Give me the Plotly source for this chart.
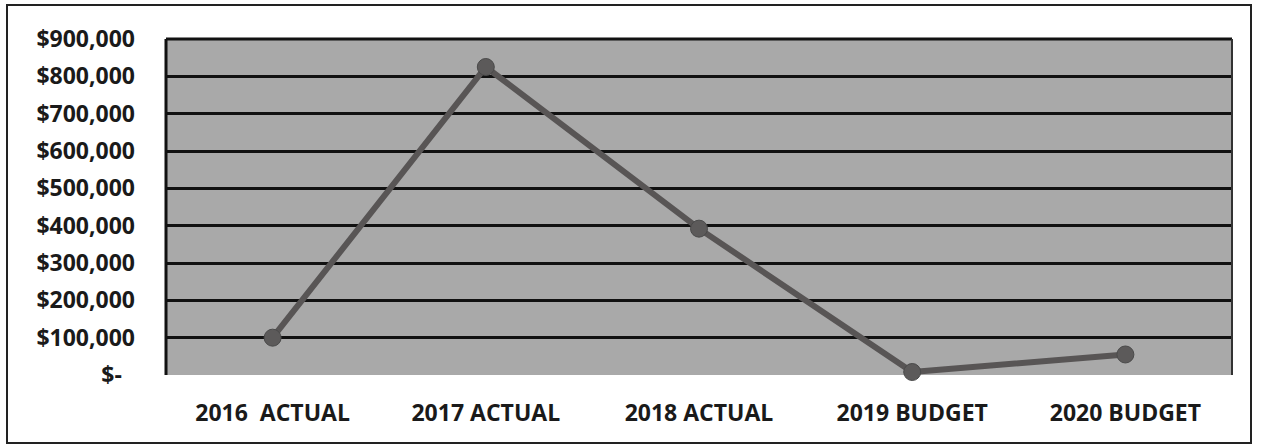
import plotly.graph_objects as go

categories = ["2016\u00a0 ACTUAL", "2017 ACTUAL", "2018 ACTUAL", "2019 BUDGET", "2020 BUDGET"]
values = [100000, 825000, 392000, 8000, 55000]

y_tick_vals = [0, 100000, 200000, 300000, 400000, 500000, 600000, 700000, 800000, 900000]
y_tick_text = ["$-\u2007", "$100,000", "$200,000", "$300,000", "$400,000", "$500,000",
               "$600,000", "$700,000", "$800,000", "$900,000"]

W, H = 1261, 448
L, R, T, B = 166, 29, 39, 73
pw, ph = W - L - R, H - T - B

def px_x(x):
    return (x - L) / pw

def px_y(y):
    return (H - B - y) / ph

font_family = "Open Sans"
fsize = 23

fig = go.Figure()
fig.add_trace(go.Scatter(
    x=categories, y=values, mode="lines+markers",
    line=dict(color="#585555", width=6),
    marker=dict(size=17, color="#5c5a5a", line=dict(color="#4a4a4a", width=1)),
    cliponaxis=False, hoverinfo="skip", showlegend=False,
))

fig.update_layout(
    width=W, height=H,
    margin=dict(l=L, r=R, t=T, b=B),
    paper_bgcolor="white",
    plot_bgcolor="#a9a9a9",
    font=dict(family=font_family, size=fsize, color="#1a1a1a", weight="bold"),
    xaxis=dict(
        type="category", range=[-0.5, 4.5],
        showgrid=False, zeroline=False, showline=False,
        ticks="", ticklabelstandoff=22,
        tickfont=dict(family=font_family, size=fsize, color="#1a1a1a", weight="bold"),
    ),
    yaxis=dict(
        range=[0, 900000], tickmode="array", tickvals=y_tick_vals, ticktext=y_tick_text,
        showgrid=True, gridcolor="#111111", gridwidth=3,
        zeroline=False, showline=False,
        ticks="", ticklabelstandoff=30,
        tickfont=dict(family=font_family, size=fsize, color="#1a1a1a", weight="bold"),
    ),
    shapes=[
        dict(type="line", xref="paper", yref="paper", x0=0, x1=0, y0=0, y1=1,
             line=dict(color="#111111", width=3)),
        dict(type="line", xref="paper", yref="paper", x0=0, x1=1, y0=1, y1=1,
             line=dict(color="#111111", width=3)),
        dict(type="line", xref="paper", yref="paper", x0=1, x1=1, y0=0, y1=1,
             line=dict(color="#333333", width=2)),
        dict(type="rect", xref="paper", yref="paper",
             x0=px_x(7), x1=px_x(1251), y0=px_y(443), y1=px_y(5),
             line=dict(color="#222222", width=2), layer="below"),
    ],
)

fig.write_html("out.html")
